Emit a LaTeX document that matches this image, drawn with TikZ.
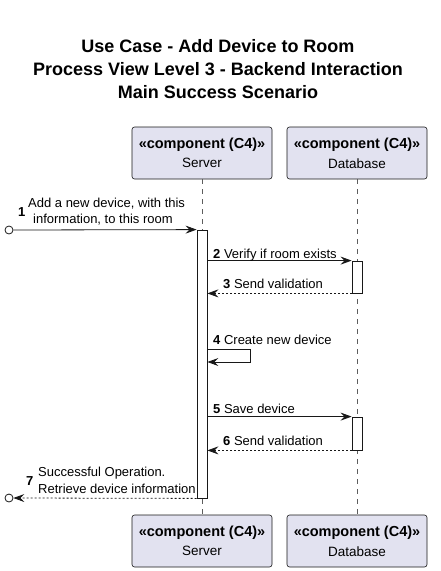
\documentclass[tikz,border=0pt]{standalone}
\usepackage{fontspec}
\setmainfont{Liberation Sans}
\usetikzlibrary{arrows.meta}
\definecolor{partfill}{HTML}{E2E2F0}
\definecolor{ink}{HTML}{181818}
\tikzset{
  part/.style={draw=ink, fill=partfill, rounded corners=2.5pt, line width=0.6pt,
    minimum width=140pt, minimum height=52pt, align=center, inner sep=0pt},
  act/.style={draw=ink, fill=white, line width=0.8pt, minimum width=10pt, inner sep=0pt},
  life/.style={draw=ink!70, line width=0.6pt, dash pattern=on 5pt off 5pt},
  msg/.style={draw=ink, line width=0.8pt, -{Stealth[length=11pt,width=8pt,inset=4pt]}},
  ret/.style={msg, dash pattern=on 2pt off 2pt},
  lbl/.style={inner sep=0pt, anchor=base west, font=\fontsize{13}{16}\selectfont},
  endc/.style={circle, draw=ink, line width=0.8pt, fill=white, inner sep=0pt, minimum size=8pt},
  ttl/.style={align=center, font=\fontsize{18}{23}\selectfont\bfseries}
}
\newcommand{\ptext}[1]{{\fontsize{14.5}{17}\selectfont\bfseries «component (C4)»}\\[6pt]{\fontsize{13.5}{16}\selectfont #1}}
\begin{document}
\begin{tikzpicture}[x=1pt,y=-1pt]
\useasboundingbox (0,0) rectangle (441,571);
\node[ttl] (title) at (218,69) {Use Case - Add Device to Room\\Process View Level 3 - Backend Interaction\\Main Success Scenario};
% participants
\node[part] (srvT) at (202,153) {\ptext{Server}};
\node[part] (dbT) at (357,153) {\ptext{Database}};
\node[part] (srvB) at (202,541) {\ptext{Server}};
\node[part] (dbB) at (357,541) {\ptext{Database}};
\draw[life] (srvT.south) -- (srvB.north);
\draw[life] (dbT.south) -- (dbB.north);
% activations
\node[act, minimum height=268pt] (sa) at (202,364) {};
\node[act, minimum height=32pt] (da1) at (357,277) {};
\node[act, minimum height=33pt] (da2) at (357,433.5) {};
% endpoints
\node[endc] (c1) at (9,230) {};
\node[endc] (c7) at (9,498) {};
\coordinate (s4a) at (250,349);
\coordinate (s4b) at (250,362);
% messages
\draw[msg] (c1.east) -- (sa.north west);
\node[lbl] (l1a) at (28,207) {Add a new device, with this};
\node[lbl] (l1b) at (33,223) {information, to this room};
\node[lbl] (n1) at (18,216) {\bfseries 1};
\draw[msg] (sa.east |- da1.north) -- (da1.north west);
\node[lbl] (l2) at (213,258) {\textbf{2} Verify if room exists};
\draw[ret] (da1.south west) -- (sa.east |- da1.south);
\node[lbl] (l3) at (223,288) {\textbf{3} Send validation};
\draw[msg] (sa.east |- s4a) -- (s4a) -- (s4b) -- (sa.east |- s4b);
\node[lbl] (l4) at (213,344) {\textbf{4} Create new device};
\draw[msg] (sa.east |- da2.north) -- (da2.north west);
\node[lbl] (l5) at (213,413) {\textbf{5} Save device};
\draw[ret] (da2.south west) -- (sa.east |- da2.south);
\node[lbl] (l6) at (223,445) {\textbf{6} Send validation};
\draw[ret] (sa.south west) -- (c7.east);
\node[lbl] (l7a) at (38,476) {Successful Operation.};
\node[lbl] (l7b) at (38,493) {Retrieve device information};
\node[lbl] (n7) at (26,485) {\bfseries 7};
\end{tikzpicture}
\end{document}
